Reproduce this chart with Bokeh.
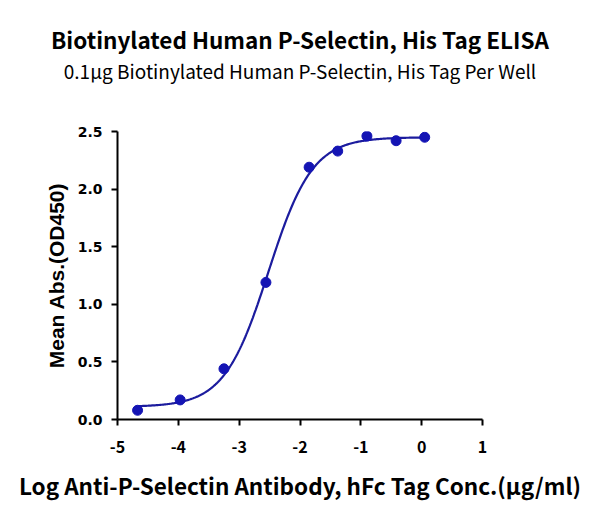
import numpy as np
from bokeh.plotting import figure
from bokeh.models import FixedTicker, Range1d, Title
from bokeh.embed import file_html
from bokeh.resources import INLINE

# Data
log_conc = [-4.67, -3.97, -3.25, -2.56, -1.85, -1.38, -0.90, -0.42, 0.05]
mean_abs = [0.08, 0.17, 0.44, 1.19, 2.19, 2.33, 2.46, 2.42, 2.45]

# 4-parameter logistic fit parameters (bottom, top, logEC50, hill)
fit_bottom = 0.11
fit_top = 2.45
fit_logec50 = -2.52
fit_hill = 1.2

x_ticks = [-5, -4, -3, -2, -1, 0, 1]
x_tick_labels = ["-5", "-4", "-3", "-2", "-1", "0", "1"]
y_ticks = [0.0, 0.5, 1.0, 1.5, 2.0, 2.5]
y_tick_labels = ["0.0", "0.5", "1.0", "1.5", "2.0", "2.5"]

title_text = "Biotinylated Human P-Selectin, His Tag ELISA"
subtitle_text = "0.1\u03bcg Biotinylated Human P-Selectin, His Tag Per Well"
x_label = "Log Anti-P-Selectin Antibody, hFc Tag Conc.(\u03bcg/ml)"
y_label = "Mean Abs.(OD450)"

W, H = 600, 515
p = figure(width=W, height=H, output_backend="svg", toolbar_location=None,
           x_range=Range1d(-5, 1), y_range=Range1d(0, 2.5),
           min_border_left=117, min_border_right=118,
           min_border_top=0, min_border_bottom=96)
p.outline_line_color = None
p.grid.visible = False
p.background_fill_color = "white"
p.border_fill_color = "white"

xs = np.linspace(min(log_conc), max(log_conc), 300)
ys = fit_bottom + (fit_top - fit_bottom) / (1 + 10 ** ((fit_logec50 - xs) * fit_hill))
p.line(xs, ys, line_color="#1c1c9e", line_width=2.2)
p.scatter(log_conc, mean_abs, size=10, fill_color="#1414b4", line_color="#1414b4")

for ax in (p.xaxis[0], p.yaxis[0]):
    ax.axis_line_width = 2
    ax.axis_line_color = "black"
    ax.major_tick_line_width = 2
    ax.major_tick_line_color = "black"
    ax.major_tick_out = 6
    ax.major_tick_in = 0
    ax.minor_tick_line_color = None
    ax.major_label_text_color = "black"
    ax.axis_label_text_color = "black"

p.xaxis.ticker = FixedTicker(ticks=x_ticks)
p.yaxis.ticker = FixedTicker(ticks=y_ticks)
p.xaxis.major_label_overrides = dict(zip(x_ticks, x_tick_labels))
p.yaxis.major_label_overrides = dict(zip(y_ticks, y_tick_labels))
p.xaxis.major_label_text_font = "Noto Sans CJK SC"
p.xaxis.major_label_text_font_style = "bold"
p.xaxis.major_label_text_font_size = "16px"
p.xaxis.major_label_standoff = 15
p.yaxis.major_label_text_font = "DejaVu Sans"
p.yaxis.major_label_text_font_style = "bold"
p.yaxis.major_label_text_font_size = "14px"
p.yaxis.major_label_standoff = 9

p.xaxis.axis_label = x_label
p.xaxis.axis_label_text_font = "Noto Sans CJK SC"
p.xaxis.axis_label_text_font_style = "bold"
p.xaxis.axis_label_text_font_size = "22.5px"
p.xaxis.axis_label_standoff = 13

p.yaxis.axis_label = y_label
p.yaxis.axis_label_text_font = "Liberation Sans"
p.yaxis.axis_label_text_font_style = "bold"
p.yaxis.axis_label_text_font_size = "21px"
p.yaxis.axis_label_standoff = 7

# top spacer (outermost)
p.title.text = " "
p.title.text_font_size = "1px"
p.title.standoff = 17

# stacked from the frame outward: spacer, subtitle, title
p.add_layout(Title(text=" ", text_font_size="1px", standoff=45), "above")
p.add_layout(Title(text=subtitle_text, text_font="Noto Sans CJK SC", text_font_style="normal",
                   text_font_size="19px", text_color="black", align="center", standoff=0), "above")
p.add_layout(Title(text=title_text, text_font="Noto Sans CJK SC", text_font_style="bold",
                   text_font_size="22.5px", text_color="black", align="center", standoff=0), "above")

open("out.html", "w").write(file_html(p, INLINE))
